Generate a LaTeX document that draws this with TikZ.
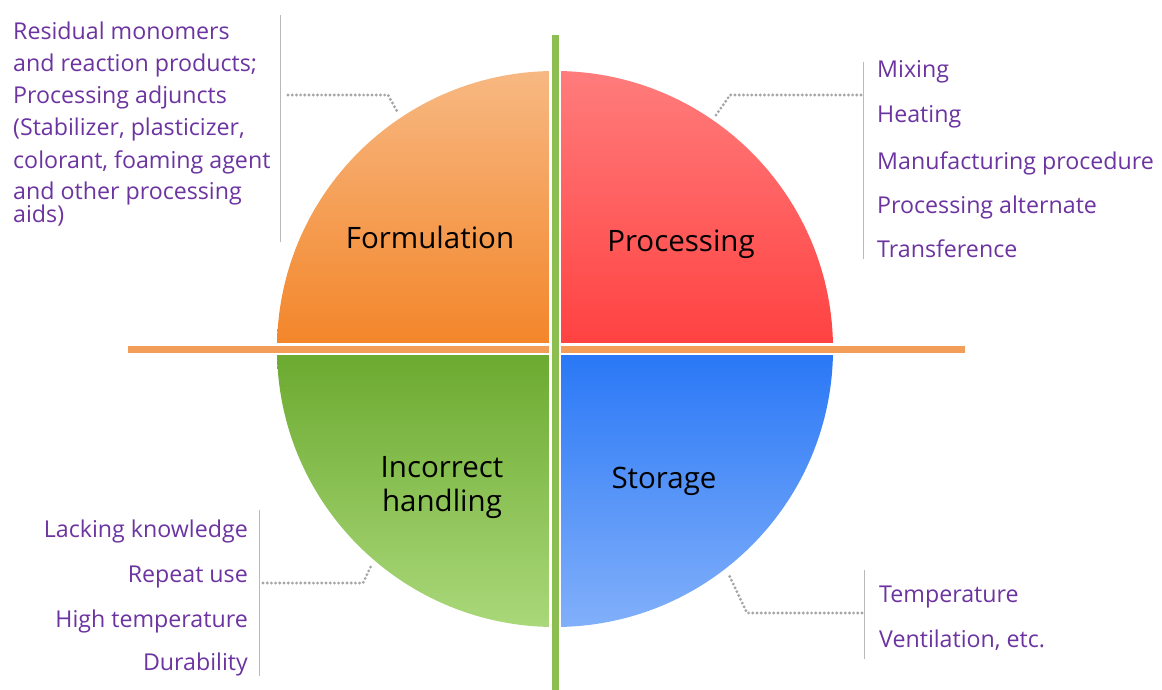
\documentclass[tikz,border=0pt]{standalone}
\usepackage{fontspec}
\setmainfont{Open Sans}
\definecolor{itempurple}{RGB}{108,52,160}
\definecolor{formtop}{RGB}{247,184,130}
\definecolor{formbot}{RGB}{243,134,42}
\definecolor{proctop}{RGB}{255,124,124}
\definecolor{procbot}{RGB}{255,66,66}
\definecolor{handtop}{RGB}{108,170,48}
\definecolor{handbot}{RGB}{170,216,122}
\definecolor{stortop}{RGB}{42,120,246}
\definecolor{storbot}{RGB}{130,176,250}
\definecolor{axisorange}{RGB}{243,158,88}
\definecolor{axisgreen}{RGB}{140,190,82}
\tikzset{
	quadlabel/.style={font=\fontsize{29.5}{34}\selectfont, text=black, inner sep=0pt},
	itemtext/.style={font=\fontsize{23.2}{32}\selectfont, text=itempurple, inner sep=0pt},
	dotline/.style={draw=gray!70, line width=3.2pt, dash pattern=on 0pt off 4.2pt, line cap=round},
	barline/.style={draw=gray!55, line width=0.8pt},
}
\begin{document}
\begin{tikzpicture}[x=1pt, y=-1pt]
				\useasboundingbox (0,0) rectangle (1162,690);
				\coordinate (ctr) at (555,349);
				
				% four quarters of the disc
				\begin{scope}
					\clip (ctr) circle (278);
					\shade [top color=formtop, bottom color=formbot] (270,71) rectangle (549,343);
					\shade [top color=proctop, bottom color=procbot] (561,71) rectangle (840,343);
					\shade [top color=handtop, bottom color=handbot] (270,355) rectangle (549,628);
					\shade [top color=stortop, bottom color=storbot] (561,355) rectangle (840,628);
				\end{scope}
				
				% axes
				\coordinate (hleft) at (128,349);
				\coordinate (hright) at (965,349);
				\coordinate (vtop) at (555,35);
				\coordinate (vbot) at (555,690);
				\draw [white, line width=12] (hleft) -- (hright);
				\draw [axisorange, line width=7] (hleft) -- (hright);
				\draw [white, line width=12] (vtop) -- (vbot);
				\draw [axisgreen, line width=7] (vtop) -- (vbot);
				
				\node [quadlabel, anchor=base] (form) at (430,248) {Formulation};
				\node [quadlabel, anchor=base] (proc) at (681,251) {Processing};
				\node [quadlabel, align=center] (hand) at (442,488) {Incorrect\\handling};
				\node [quadlabel, anchor=base] (stor) at (664,488) {Storage};
				
				% formulation list
				\node [itemtext, anchor=base west] (f1) at (13,40) {Residual monomers};
				\node [itemtext, anchor=base west] (f2) at (13,72) {and reaction products;};
				\node [itemtext, anchor=base west] (f3) at (13,104) {Processing adjuncts};
				\node [itemtext, anchor=base west] (f4) at (13,136) {(Stabilizer, plasticizer,};
				\node [itemtext, anchor=base west] (f5) at (13,168) {colorant, foaming agent};
				\node [itemtext, anchor=base west] (f6) at (13,200) {and other processing};
				\node [itemtext, anchor=base west] (f7) at (13,222) {aids)};
				\coordinate (fbartop) at (280,15);
				\coordinate (fbarbot) at (280,242);
				\coordinate (fstart) at (288,95);
				\coordinate (fknee) at (388,95);
				\coordinate (ftip) at (398,113);
				\draw [barline] (fbartop) -- (fbarbot);
				\draw [dotline] (fstart) -- (fknee) -- (ftip);
				
				% processing list
				\node [itemtext, anchor=base west] (p1) at (877,78) {Mixing};
				\node [itemtext, anchor=base west] (p2) at (877,123) {Heating};
				\node [itemtext, anchor=base west] (p3) at (877,169) {Manufacturing procedure};
				\node [itemtext, anchor=base west] (p4) at (877,213) {Processing alternate};
				\node [itemtext, anchor=base west] (p5) at (877,257) {Transference};
				\coordinate (pbartop) at (863,62);
				\coordinate (pbarbot) at (863,259);
				\coordinate (pstart) at (861,95);
				\coordinate (pknee) at (730,95);
				\coordinate (ptip) at (714,118);
				\draw [barline] (pbartop) -- (pbarbot);
				\draw [dotline] (pstart) -- (pknee) -- (ptip);
				
				% handling list
				\node [itemtext, anchor=base east] (h1) at (248,537) {Lacking knowledge};
				\node [itemtext, anchor=base east] (h2) at (248,582) {Repeat use};
				\node [itemtext, anchor=base east] (h3) at (248,627) {High temperature};
				\node [itemtext, anchor=base east] (h4) at (248,670) {Durability};
				\coordinate (hbartop) at (259,510);
				\coordinate (hbarbot) at (259,676);
				\coordinate (hstart) at (263,583);
				\coordinate (hknee) at (363,583);
				\coordinate (htip) at (372,564);
				\draw [barline] (hbartop) -- (hbarbot);
				\draw [dotline] (hstart) -- (hknee) -- (htip);
				
				% storage list
				\node [itemtext, anchor=base west] (s1) at (879,602) {Temperature};
				\node [itemtext, anchor=base west] (s2) at (879,647) {Ventilation, etc.};
				\coordinate (sbartop) at (864,570);
				\coordinate (sbarbot) at (864,659);
				\coordinate (sstart) at (862,613);
				\coordinate (sknee) at (747,613);
				\coordinate (stip) at (728,573);
				\draw [barline] (sbartop) -- (sbarbot);
				\draw [dotline] (sstart) -- (sknee) -- (stip);
\end{tikzpicture}
\end{document}
